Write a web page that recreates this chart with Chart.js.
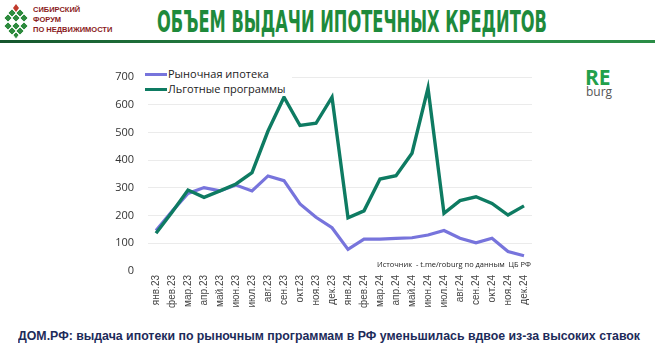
<!DOCTYPE html>
<html lang="ru">
<head>
<meta charset="utf-8">
<script src="https://cdn.jsdelivr.net/npm/chart.js@4.4.1/dist/chart.umd.min.js"></script>
<style>
  html, body { margin: 0; padding: 0; background: #fff; }
  body { width: 655px; height: 353px; position: relative; overflow: hidden; font-family: 'Liberation Sans', Arial, sans-serif; }
  .abs { position: absolute; white-space: nowrap; }
  #logo { left: 2px; top: 3px; }
  #brand { left: 33px; top: 5px; font: bold 7.5px/10px 'Liberation Sans', Arial, sans-serif; color: #8a1c22; }
  #title { left: 157px; top: 7px; font: bold 30px/30px 'Liberation Sans Narrow', 'DejaVu Sans Condensed', sans-serif; color: #1e8a3b; transform-origin: 0 0; }
  #rule { left: 0; top: 40px; width: 655px; height: 3px; background: linear-gradient(90deg, #15552d, #2b944b 55%, #2a8c46); }
  #chartBox { left: 90px; top: 50px; width: 460px; height: 275px; }
  #legend { left: 143px; top: 66px; background: #fff; padding: 0 6px 0 2px; font: 11px/15px 'Open Sans', sans-serif; color: #222; }
  #legend .sw { display: inline-block; width: 22px; height: 3px; vertical-align: middle; margin-right: 1px; position: relative; top: -1px; }
  #source { left: 377px; top: 259px; font: 7.5px/10px 'Open Sans', sans-serif; color: #222; transform-origin: 0 0; }
  #re { left: 585px; top: 66px; font: bold 21px/22px 'Open Sans', sans-serif; color: #22a04b; }
  #burg { left: 586px; top: 85px; font: 12px/14px 'Open Sans', sans-serif; color: #555; }
  #caption { left: 18px; top: 328px; font: bold 12.5px/16px 'Liberation Sans', Arial, sans-serif; color: #1d2b5a; transform-origin: 0 0; }
</style>
</head>
<body>
<svg id="logo" class="abs" width="28" height="37" viewBox="0 0 28 37">
  <polygon points="14,1 17,5 14,9 11,5" fill="#c0392b"/>
  <g fill="#2e8b3e" stroke="#fff" stroke-width="0.8">
    <polygon points="10,6 14,10 10,14 6,10"/>
    <polygon points="18,6 22,10 18,14 14,10"/>
    <polygon points="6,11 10,15 6,19 2,15"/>
    <polygon points="14,11 18,15 14,19 10,15"/>
    <polygon points="22,11 26,15 22,19 18,15"/>
    <polygon points="6,19 10,23 6,27 2,23"/>
    <polygon points="14,19 18,23 14,27 10,23"/>
    <polygon points="22,19 26,23 22,27 18,23"/>
    <polygon points="10,24 14,28 10,32 6,28"/>
    <polygon points="18,24 22,28 18,32 14,28"/>
    <polygon points="14,29 17,32 14,36 11,32"/>
  </g>
</svg>
<div id="brand" class="abs">СИБИРСКИЙ<br>ФОРУМ<br>ПО НЕДВИЖИМОСТИ</div>
<div id="title" class="abs">ОБЪЕМ ВЫДАЧИ ИПОТЕЧНЫХ КРЕДИТОВ</div>
<div id="rule" class="abs"></div>

<div id="chartBox" class="abs"><canvas id="mortgageChart" width="460" height="275"></canvas></div>
<div id="legend" class="abs"></div>
<div id="source" class="abs">Источник&nbsp; - t.me/roburg по данным&nbsp; ЦБ РФ</div>
<div id="re" class="abs">RE</div>
<div id="burg" class="abs">burg</div>
<div id="caption" class="abs">ДОМ.РФ: выдача ипотеки по рыночным программам в РФ уменьшилась вдвое из-за высоких ставок</div>

<script>
// Months (Jan 2023 - Dec 2024)
const months = [
    'янв.23', 'фев.23', 'мар.23', 'апр.23', 'май.23', 'июн.23', 'июл.23', 'авг.23', 'сен.23', 'окт.23', 'ноя.23', 'дек.23',
    'янв.24', 'фев.24', 'мар.24', 'апр.24', 'май.24', 'июн.24', 'июл.24', 'авг.24', 'сен.24', 'окт.24', 'ноя.24', 'дек.24'
];

const seriesNames = ['Рыночная ипотека', 'Льготные программы'];
const seriesColors = ['#7774dc', '#0e7b62'];

// Market mortgage, bn RUB
const marketMortgage = [146, 215, 280, 301, 289, 310, 289, 343, 326, 242, 194, 156,
                        78, 115, 115, 118, 120, 130, 146, 118, 102, 118, 70, 55];

// Preferential programs, bn RUB
const preferentialPrograms = [136, 212, 292, 266, 289, 314, 355, 505, 627, 525, 533, 627,
                              192, 217, 332, 344, 425, 660, 208, 254, 268, 244, 202, 235];

const yTicks = [0, 100, 200, 300, 400, 500, 600, 700];

// Fit a text block to a target width
function fitWidth(id, width) {
    const el = document.getElementById(id);
    const w = el.getBoundingClientRect().width;
    el.style.transform = 'scaleX(' + (width / w) + ')';
}

document.addEventListener('DOMContentLoaded', () => {
    fitWidth('title', 390);
    fitWidth('caption', 622);
    fitWidth('source', 154);

    // Legend
    const legend = document.getElementById('legend');
    legend.innerHTML = seriesNames.map((name, i) =>
        `<div><span class="sw" style="background:${seriesColors[i]}"></span>${name}</div>`
    ).join('');

    const ctx = document.getElementById('mortgageChart').getContext('2d');
    new Chart(ctx, {
        type: 'line',
        data: {
            labels: months,
            datasets: [
                {
                    label: seriesNames[0],
                    data: marketMortgage,
                    borderColor: seriesColors[0],
                    borderWidth: 3.2,
                    pointRadius: 0,
                    tension: 0,
                    order: 1
                },
                {
                    label: seriesNames[1],
                    data: preferentialPrograms,
                    borderColor: seriesColors[1],
                    borderWidth: 3.4,
                    pointRadius: 0,
                    tension: 0,
                    order: 0
                }
            ]
        },
        options: {
            responsive: false,
            animation: false,
            layout: { padding: { left: 0, right: 18, top: 27, bottom: 0 } },
            plugins: {
                legend: { display: false },
                tooltip: { enabled: false }
            },
            scales: {
                x: {
                    offset: true,
                    grid: { display: false, drawTicks: false },
                    border: { display: false },
                    ticks: {
                        autoSkip: false,
                        minRotation: 90,
                        maxRotation: 90,
                        padding: 4,
                        color: '#444',
                        font: { family: 'Liberation Sans', size: 10 }
                    },
                    afterFit(scale) { scale.height = 54; }
                },
                y: {
                    min: 0,
                    max: 700,
                    afterBuildTicks(scale) { scale.ticks = yTicks.map(v => ({ value: v })); },
                    grid: {
                        drawTicks: false,
                        color: c => c.tick && c.tick.value === 0 ? 'rgba(0,0,0,0)' : '#ebebeb'
                    },
                    border: { display: false },
                    ticks: {
                        padding: 14,
                        color: '#333',
                        font: { family: 'Open Sans', size: 11 }
                    },
                    afterFit(scale) { scale.width = 58; }
                }
            }
        }
    });
});
</script>
</body>
</html>
